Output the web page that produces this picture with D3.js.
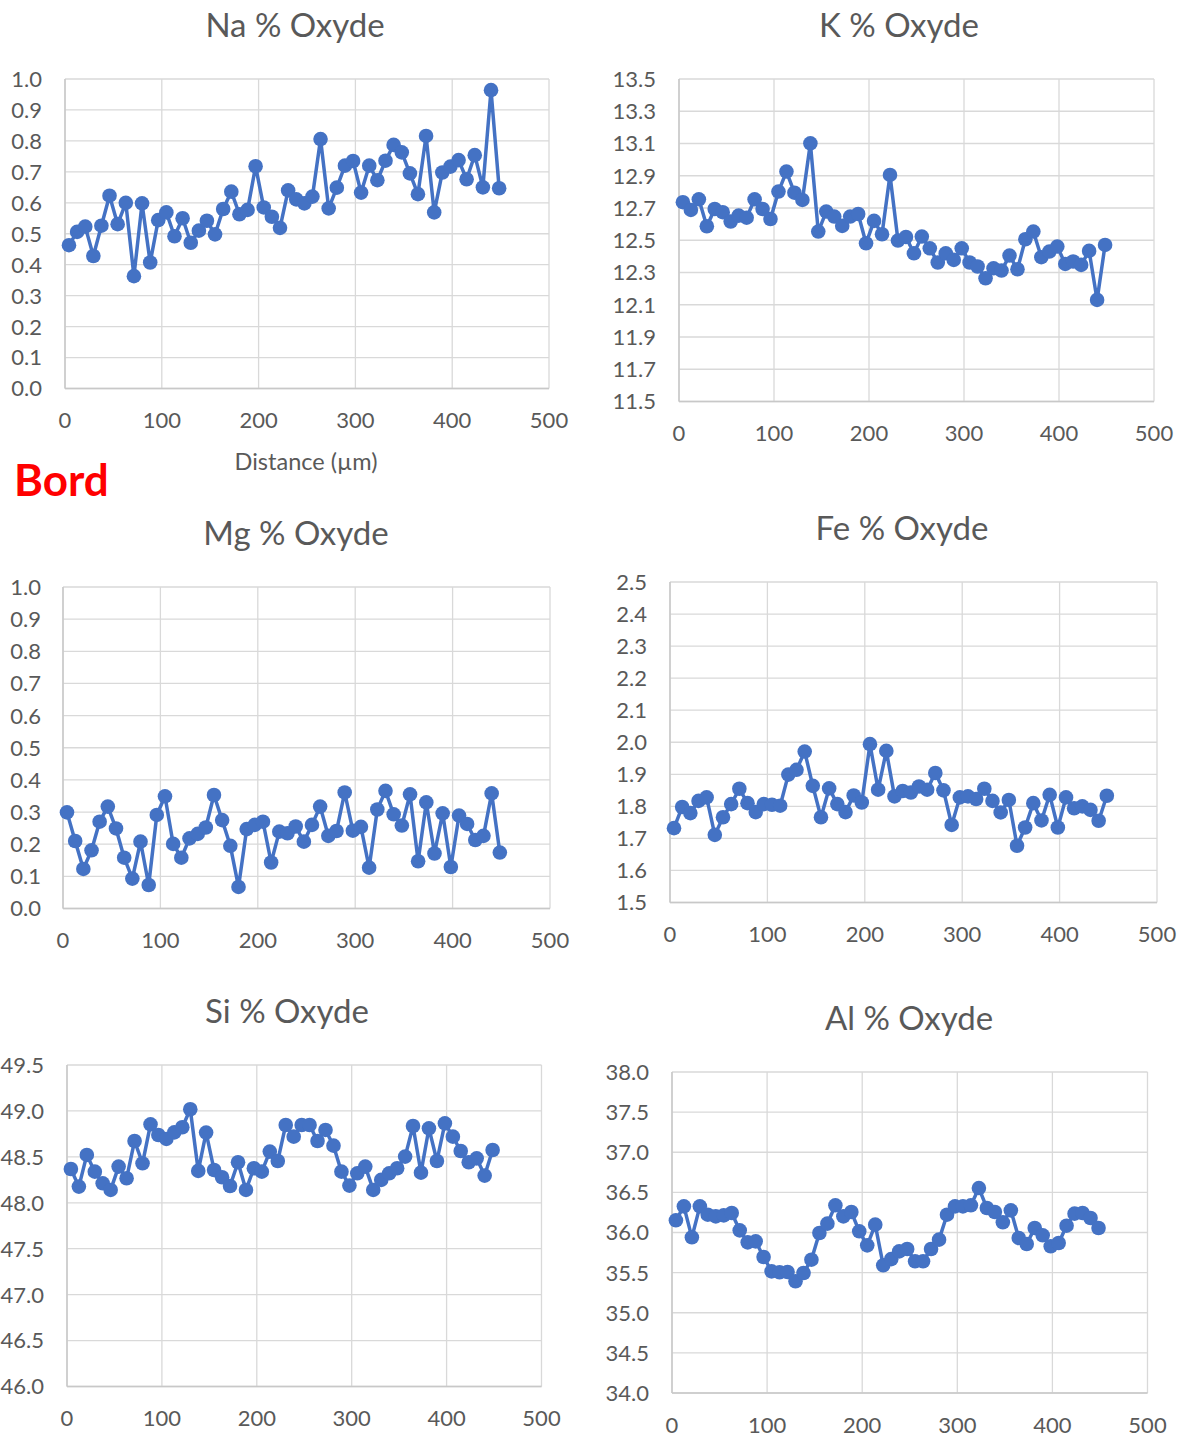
<!DOCTYPE html>
<html><head><meta charset="utf-8">
<script src="https://cdn.jsdelivr.net/npm/d3@7"></script>
<style>
body{margin:0;background:#fff}
svg{display:block}
text{font-family:Lato,"Open Sans","Liberation Sans",sans-serif}
</style>
</head><body>
<script>
// Distance (µm) of each analysis point
const distance = [4.1,12.5,20.9,29.3,37.6,46.0,54.4,62.8,71.2,79.6,88.0,96.3,104.7,113.1,121.5,129.9,138.3,146.6,155.0,163.4,171.8,180.2,188.6,196.9,205.3,213.7,222.1,230.5,238.9,247.3,255.6,264.0,272.4,280.8,289.2,297.6,305.9,314.3,322.7,331.1,339.5,347.9,356.3,364.6,373.0,381.4,389.8,398.2,406.6,414.9,423.3,431.7,440.1,448.5];

const naValues = [0.463,0.506,0.523,0.428,0.526,0.623,0.531,0.600,0.363,0.598,0.407,0.544,0.569,0.492,0.550,0.471,0.510,0.542,0.498,0.580,0.636,0.563,0.577,0.718,0.585,0.555,0.519,0.640,0.611,0.598,0.620,0.806,0.582,0.649,0.720,0.735,0.633,0.720,0.673,0.736,0.787,0.763,0.695,0.628,0.816,0.569,0.698,0.717,0.738,0.676,0.754,0.650,0.964,0.647];
const kValues = [12.736,12.688,12.754,12.587,12.694,12.674,12.616,12.653,12.640,12.754,12.694,12.632,12.802,12.926,12.795,12.750,13.101,12.554,12.678,12.647,12.589,12.647,12.663,12.481,12.620,12.537,12.905,12.498,12.52,12.419,12.523,12.450,12.362,12.419,12.378,12.450,12.362,12.337,12.264,12.326,12.312,12.405,12.320,12.506,12.554,12.395,12.430,12.461,12.353,12.368,12.347,12.434,12.130,12.471];
const mgValues = [0.299,0.210,0.123,0.181,0.270,0.317,0.249,0.158,0.093,0.208,0.073,0.291,0.349,0.201,0.158,0.218,0.232,0.252,0.353,0.275,0.195,0.067,0.247,0.260,0.270,0.143,0.239,0.234,0.255,0.208,0.260,0.317,0.226,0.241,0.361,0.242,0.254,0.127,0.308,0.366,0.293,0.258,0.355,0.147,0.330,0.171,0.296,0.129,0.289,0.263,0.213,0.226,0.358,0.174];
const feValues = [1.732,1.798,1.779,1.817,1.828,1.711,1.766,1.807,1.855,1.810,1.782,1.807,1.805,1.802,1.899,1.914,1.971,1.864,1.766,1.856,1.807,1.782,1.834,1.812,1.994,1.852,1.973,1.831,1.848,1.843,1.862,1.852,1.904,1.850,1.742,1.828,1.831,1.823,1.855,1.817,1.781,1.820,1.677,1.734,1.810,1.756,1.836,1.734,1.828,1.794,1.800,1.789,1.755,1.833];
const siValues = [48.368,48.176,48.521,48.339,48.212,48.140,48.394,48.267,48.673,48.430,48.854,48.738,48.695,48.767,48.822,49.018,48.347,48.764,48.357,48.278,48.183,48.441,48.140,48.376,48.339,48.557,48.455,48.847,48.720,48.847,48.847,48.673,48.793,48.622,48.339,48.187,48.321,48.394,48.140,48.249,48.321,48.376,48.503,48.836,48.328,48.811,48.455,48.865,48.720,48.564,48.441,48.484,48.296,48.575];
const alValues = [36.152,36.326,35.940,36.326,36.222,36.201,36.214,36.243,36.027,35.877,35.890,35.695,35.516,35.504,35.508,35.392,35.495,35.661,35.994,36.110,36.339,36.201,36.255,36.015,35.840,36.098,35.591,35.668,35.765,35.794,35.641,35.641,35.794,35.911,36.222,36.326,36.326,36.339,36.554,36.305,36.255,36.127,36.276,35.932,35.857,36.056,35.965,35.828,35.869,36.085,36.235,36.243,36.181,36.056];

const xTicks = [0,100,200,300,400,500];
const naTicks = [0.0,0.1,0.2,0.3,0.4,0.5,0.6,0.7,0.8,0.9,1.0];
const kTicks = [11.5,11.7,11.9,12.1,12.3,12.5,12.7,12.9,13.1,13.3,13.5];
const mgTicks = [0.0,0.1,0.2,0.3,0.4,0.5,0.6,0.7,0.8,0.9,1.0];
const feTicks = [1.5,1.6,1.7,1.8,1.9,2.0,2.1,2.2,2.3,2.4,2.5];
const siTicks = [46.0,46.5,47.0,47.5,48.0,48.5,49.0,49.5];
const alTicks = [34.0,34.5,35.0,35.5,36.0,36.5,37.0,37.5,38.0];

const titles = ["Na % Oxyde","K % Oxyde","Mg % Oxyde","Fe % Oxyde","Si % Oxyde","Al % Oxyde"];
const xAxisTitle = "Distance (µm)";
const sideLabel = "Bord";

const W = 1184, H = 1437;
const BLUE = "#4472C4", GRID = "#D9D9D9", TXT = "#595959";

const svg = d3.select("body").append("svg").attr("width", W).attr("height", H);

// layout: plot box [left, top, right, bottom], title centre x, y-label right edge
const panels = [
  {title: titles[0], values: naValues, ticks: naTicks, box: [65, 79, 549, 388.5], titleX: 295, labelX: 42, xTitle: true},
  {title: titles[1], values: kValues,  ticks: kTicks,  box: [679, 79, 1154, 401.5], titleX: 899, labelX: 656},
  {title: titles[2], values: mgValues, ticks: mgTicks, box: [63, 587, 550, 908.5], titleX: 296, labelX: 41},
  {title: titles[3], values: feValues, ticks: feTicks, box: [670, 582, 1157, 902.5], titleX: 902, labelX: 647},
  {title: titles[4], values: siValues, ticks: siTicks, box: [67, 1065, 541.5, 1386.5], titleX: 287, labelX: 44},
  {title: titles[5], values: alValues, ticks: alTicks, box: [672, 1072, 1147.5, 1393], titleX: 909, labelX: 649}
];

panels.forEach(p => {
  const [x0, y0, x1, y1] = p.box;
  const x = d3.scaleLinear().domain([xTicks[0], xTicks[xTicks.length - 1]]).range([x0, x1]);
  const y = d3.scaleLinear().domain([p.ticks[0], p.ticks[p.ticks.length - 1]]).range([y1, y0]);
  const g = svg.append("g");

  g.selectAll("line.h").data(p.ticks).join("line")
    .attr("x1", x0).attr("x2", x1)
    .attr("y1", d => y(d)).attr("y2", d => y(d))
    .attr("stroke", GRID).attr("stroke-width", 1.3);
  g.selectAll("line.v").data(xTicks).join("line")
    .attr("x1", d => x(d)).attr("x2", d => x(d))
    .attr("y1", y0).attr("y2", y1)
    .attr("stroke", GRID).attr("stroke-width", 1.3);
  g.append("line").attr("x1", x0).attr("x2", x0).attr("y1", y0).attr("y2", y1)
    .attr("stroke", "#C8C8C8").attr("stroke-width", 1.5);
  g.append("line").attr("x1", x0).attr("x2", x1).attr("y1", y1).attr("y2", y1)
    .attr("stroke", "#C8C8C8").attr("stroke-width", 1.5);

  g.selectAll("text.y").data(p.ticks).join("text")
    .attr("x", p.labelX).attr("y", d => y(d))
    .attr("dy", "0.36em").attr("text-anchor", "end")
    .attr("font-size", 22).attr("fill", TXT)
    .text(d => d.toFixed(1));
  g.selectAll("text.x").data(xTicks).join("text")
    .attr("x", d => x(d)).attr("y", y1 + 32)
    .attr("dy", "0.36em").attr("text-anchor", "middle")
    .attr("font-size", 22).attr("fill", TXT)
    .text(d => d);

  g.append("text").attr("x", p.titleX).attr("y", y0 - 54)
    .attr("dy", "0.36em").attr("text-anchor", "middle")
    .attr("font-size", 33).attr("fill", TXT).text(p.title);

  if (p.xTitle) {
    g.append("text").attr("x", 306).attr("y", y1 + 73)
      .attr("dy", "0.36em").attr("text-anchor", "middle")
      .attr("font-size", 23.5).attr("fill", TXT).text(xAxisTitle);
  }

  const pts = distance.map((d, i) => [d, p.values[i]]);
  g.append("path").datum(pts)
    .attr("fill", "none").attr("stroke", BLUE).attr("stroke-width", 3.5)
    .attr("stroke-linejoin", "round")
    .attr("d", d3.line().x(d => x(d[0])).y(d => y(d[1])));
  g.selectAll("circle").data(pts).join("circle")
    .attr("cx", d => x(d[0])).attr("cy", d => y(d[1]))
    .attr("r", 7.3).attr("fill", BLUE);
});

svg.append("text").attr("x", 14).attr("y", 480).attr("dy", "0.36em")
  .attr("font-size", 44).attr("font-weight", "bold").attr("fill", "#FF0000")
  .text(sideLabel);
</script>
</body></html>
